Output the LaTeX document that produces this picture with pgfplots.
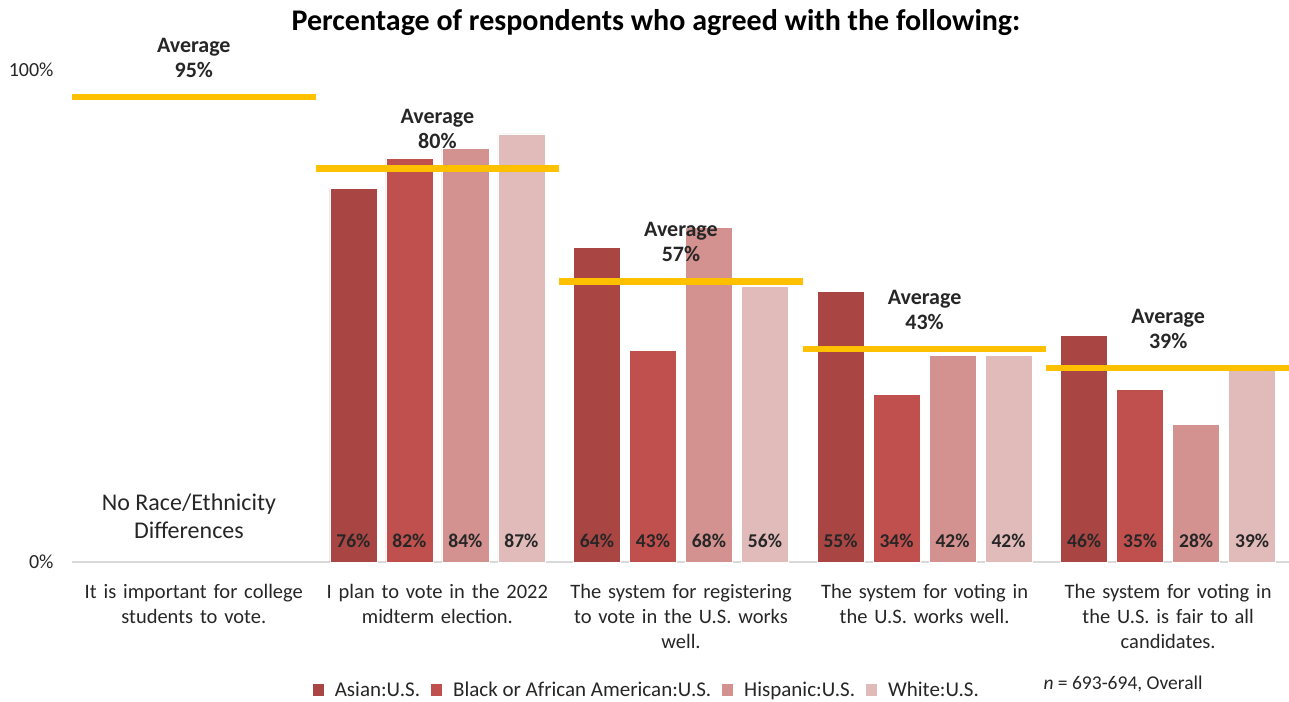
\documentclass[border=0pt]{standalone}
\usepackage{pgfplots}
\pgfplotsset{compat=1.18}
\usepackage{fontspec}
\setmainfont{Carlito}
\definecolor{casian}{RGB}{169,70,68}
\definecolor{cblack}{RGB}{192,80,77}
\definecolor{chisp}{RGB}{211,145,143}
\definecolor{cwhite}{RGB}{225,186,186}
\definecolor{gold}{RGB}{255,192,0}
\pgfplotsset{
  barlbl/.style={
    visualization depends on=y \as \rawy,
    nodes near coords={\textbf{\pgfmathprintnumber[assume math mode=true]{\pgfplotspointmeta}\%}},
    every node near coord/.append style={font=\fontsize{19.5}{22}\selectfont\bfseries, anchor=center,
      shift={(axis direction cs:0,-\rawy)}, yshift=21pt, text=black!85},
  },
}
\begin{document}
\begin{tikzpicture}
\begin{axis}[
  name=ax,
  scale only axis,
  width=1218pt, height=492pt,
  xmin=-0.5, xmax=4.5, ymin=0, ymax=100,
  clip=false,
  /pgf/number format/assume math mode=true,
  axis line style={draw=none},
  tick style={draw=none},
  ytick={0,100}, yticklabels={0\%,100\%},
  yticklabel style={font=\fontsize{20}{23}\selectfont, xshift=-15pt, text=black!85},
  xtick={0,1,2,3,4},
  xticklabels={{It is important for college\\students to vote.},
               {I plan to vote in the 2022\\midterm election.},
               {The system for registering\\to vote in the U.S. works\\well.},
               {The system for voting in\\the U.S. works well.},
               {The system for voting in\\the U.S. is fair to all\\candidates.}},
  xticklabel style={font=\fontsize{20.5}{25}\selectfont, align=center, text width=240pt, yshift=-14pt, text=black!85},
  ybar=0pt,
  bar width=47pt,
  legend columns=4,
  legend style={draw=none, at={(rel axis cs:0.472,0)}, anchor=center, yshift=-128pt,
    font=\fontsize{21}{24}\selectfont, column sep=9pt, text=black!85},
  legend image code/.code={\fill[#1, draw=none] (0pt,-6pt) rectangle (11pt,6pt);},
]
\addplot[gray!30, line width=1.5pt, sharp plot, forget plot] coordinates {(-0.5,0) (4.5,0)};
\addplot[fill=casian, draw=white, line width=0.6pt, bar shift=-84pt, barlbl] coordinates {(1,76) (2,64) (3,55) (4,46)};
\addplot[fill=cblack, draw=white, line width=0.6pt, bar shift=-28pt, barlbl] coordinates {(1,82) (2,43) (3,34) (4,35)};
\addplot[fill=chisp, draw=white, line width=0.6pt, bar shift=28pt, barlbl] coordinates {(1,84) (2,68) (3,42) (4,28)};
\addplot[fill=cwhite, draw=white, line width=0.6pt, bar shift=84pt, barlbl] coordinates {(1,87) (2,56) (3,42) (4,39)};
\legend{Asian:U.S.,Black or African American:U.S.,Hispanic:U.S.,White:U.S.}
\addplot[gold, line width=6.5pt, sharp plot, forget plot] coordinates {(-0.5,94.5) (0.5,94.5)};
\addplot[gold, line width=6.5pt, sharp plot, forget plot] coordinates {(0.5,80) (1.5,80)};
\addplot[gold, line width=6.5pt, sharp plot, forget plot] coordinates {(1.5,57) (2.5,57)};
\addplot[gold, line width=6.5pt, sharp plot, forget plot] coordinates {(2.5,43.3) (3.5,43.3)};
\addplot[gold, line width=6.5pt, sharp plot, forget plot] coordinates {(3.5,39.4) (4.5,39.4)};
\node[font=\fontsize{22}{25}\selectfont\bfseries, align=center, anchor=south, text=black!85] at (axis cs:0,94.5) [yshift=16pt] {Average\\95\%};
\node[font=\fontsize{22}{25}\selectfont\bfseries, align=center, anchor=south, text=black!85] at (axis cs:1,80) [yshift=16pt] {Average\\80\%};
\node[font=\fontsize{22}{25}\selectfont\bfseries, align=center, anchor=south, text=black!85] at (axis cs:2,57) [yshift=16pt] {Average\\57\%};
\node[font=\fontsize{22}{25}\selectfont\bfseries, align=center, anchor=south, text=black!85] at (axis cs:3,43.3) [yshift=16pt] {Average\\43\%};
\node[font=\fontsize{22}{25}\selectfont\bfseries, align=center, anchor=south, text=black!85] at (axis cs:4,39.4) [yshift=16pt] {Average\\39\%};
\node[font=\fontsize{24}{28}\selectfont, align=center, text=black!85] at (axis cs:-0.02,9.3) {No Race/Ethnicity\\Differences};
\end{axis}
\node[font=\fontsize{30}{34}\selectfont\bfseries, text=black] at ([xshift=584pt,yshift=539pt]ax.south west) {Percentage of respondents who agreed with the following:};
\node[font=\fontsize{19.5}{22}\selectfont, anchor=west, text=black!85] at ([xshift=968pt,yshift=-122pt]ax.south west) {\textit{n} = 693-694, Overall};
\pgfresetboundingbox
\path ([xshift=-72pt,yshift=-139pt]ax.south west) rectangle ++(1289pt,701pt);
\end{tikzpicture}
\end{document}
